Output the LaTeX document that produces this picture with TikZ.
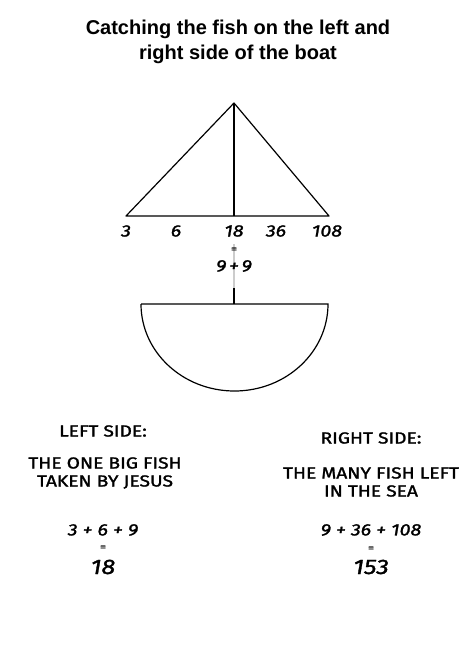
\documentclass[tikz,border=0pt]{standalone}
\usepackage{fontspec}
\setmainfont{Liberation Sans}
\newfontfamily\handfont[FakeStretch=1.2,FakeBold=1.5]{Fira Sans}
\begin{document}
\begin{tikzpicture}[x=1pt,y=-1pt,
  title/.style={font=\fontsize{20}{25}\selectfont\bfseries, align=center},
  hand/.style={font=\handfont\fontsize{16}{18}\selectfont, align=center, inner sep=0pt},
  num/.style={font=\handfont\itshape\fontsize{16.5}{18}\selectfont, inner sep=0pt},
  bignum/.style={font=\handfont\itshape\fontsize{21}{23}\selectfont, inner sep=0pt},
  eqs/.style={font=\handfont\fontsize{10}{10}\selectfont, inner sep=0pt},
  line/.style={draw=black, line width=1.2pt}]
\useasboundingbox[fill=white] (0,0) rectangle (474,672);
% title
\node[title] (title) at (238,42) {Catching the fish on the left and\\right side of the boat};
% sail
\coordinate (apex) at (234,103);
\coordinate (bl) at (126,216);
\coordinate (br) at (329,216);
\coordinate (bm) at (234,216);
\draw[line, line join=round] (bl) -- (apex) -- (br) -- cycle;
\draw[line] (apex) -- (bm);
% sail labels
\node[num] (n3) at (126,231) {3};
\node[num] (n6) at (176,231) {6};
\node[num] (n18) at (234,231) {18};
\node[num] (n36) at (276,231) {36};
\node[num] (n108) at (327,231) {108};
% mast
\coordinate (mt) at (234,244);
\coordinate (mm) at (234,288);
\coordinate (mb) at (234,304);
\draw[line width=1.2pt, black!20] (mt) -- (mm);
\draw[line] (mm) -- (mb);
\node[eqs] (eq0) at (234,250) {=};
\node[num] (nine) at (234,266) {9\,+\,9};
% boat
\coordinate (hl) at (141,304);
\coordinate (hr) at (328,304);
\draw[line] (hl) -- (hr) arc[start angle=0, end angle=-180, x radius=93.5, y radius=-87];
% left side
\node[hand] (ls) at (103,431) {LEFT SIDE:};
\node[hand] (lt) at (105,473) {THE ONE BIG FISH\\TAKEN BY JESUS};
\node[num] (lsum) at (103,530) {3 + 6 + 9};
\node[eqs] (leq) at (103,548) {=};
\node[bignum] (lres) at (103,567) {18};
% right side
\node[hand] (rs) at (371,438) {RIGHT SIDE:};
\node[hand] (rt) at (371,482) {THE MANY FISH LEFT\\IN THE SEA};
\node[num] (rsum) at (371,530) {9 + 36 + 108};
\node[eqs] (req) at (371,549) {=};
\node[bignum] (rres) at (371,567) {153};
\end{tikzpicture}
\end{document}
